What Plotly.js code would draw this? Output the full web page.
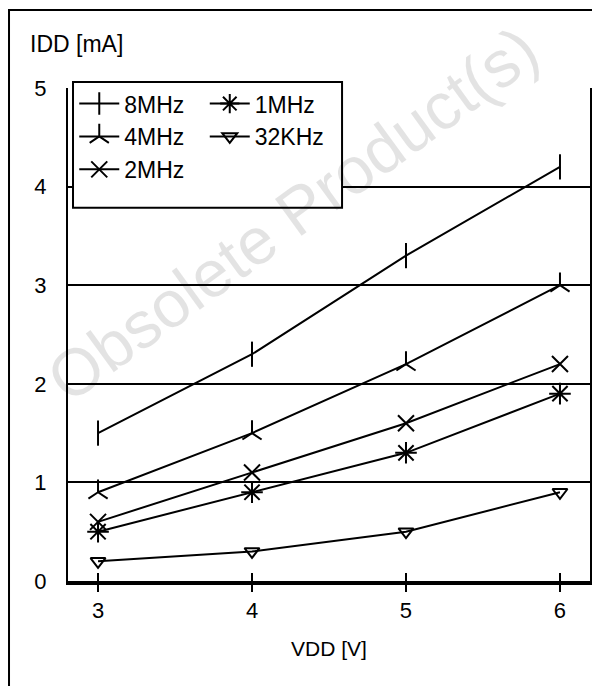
<!DOCTYPE html>
<html>
<head>
<meta charset="utf-8">
<script src="https://cdn.plot.ly/plotly-3.0.1.min.js"></script>
<style>html,body{margin:0;padding:0;background:#fff;}#chart{width:592px;height:686px;}</style>
</head>
<body>
<div id="chart"></div>
<script>
const vdd = [3, 4, 5, 6];
const idd8MHz = [1.5, 2.3, 3.3, 4.2];
const idd4MHz = [0.9, 1.5, 2.2, 3.0];
const idd2MHz = [0.6, 1.1, 1.6, 2.2];
const idd1MHz = [0.5, 0.9, 1.3, 1.9];
const idd32KHz = [0.2, 0.3, 0.5, 0.9];
const seriesNames = ['8MHz', '4MHz', '2MHz', '1MHz', '32KHz'];
const xTicks = [3, 4, 5, 6];
const yTicks = [0, 1, 2, 3, 4, 5];

const FONT = 'Liberation Sans, Arial, sans-serif';
const lineStyle = {color: '#000', width: 2};

function tr(name, y, symbol, size, legend) {
  return {
    x: vdd, y: y, name: name, type: 'scatter', mode: 'lines+markers',
    line: lineStyle,
    marker: {symbol: symbol, size: size, color: '#000', line: {color: '#000', width: 2}},
    legend: legend, legendgroup: name, cliponaxis: false
  };
}

const data = [
  tr(seriesNames[0], idd8MHz, 'line-ns-open', 18, 'legend'),
  tr(seriesNames[1], idd4MHz, 'y-up-open', 16, 'legend'),
  tr(seriesNames[2], idd2MHz, 'x-thin-open', 16, 'legend'),
  tr(seriesNames[3], idd1MHz, 'asterisk-open', 18, 'legend2'),
  tr(seriesNames[4], idd32KHz, 'triangle-down-open', 13, 'legend2')
];

const legendBase = {
  bgcolor: 'rgba(0,0,0,0)', borderwidth: 0,
  font: {family: FONT, size: 23, color: '#000'},
  xanchor: 'left', yanchor: 'top', tracegroupgap: 0, itemwidth: 40
};

const layout = {
  width: 592, height: 686,
  margin: {l: 68, r: 2, t: 88, b: 105},
  paper_bgcolor: '#fff', plot_bgcolor: '#fff',
  font: {family: FONT, size: 22, color: '#000'},
  title: {text: 'IDD [mA]', xref: 'container', yref: 'container', x: 30/592, y: 1 - 44/686,
          xanchor: 'left', yanchor: 'middle', font: {family: FONT, size: 23, color: '#000'}},
  xaxis: {
    range: [2.805, 6.195], tickvals: xTicks, ticktext: xTicks.map(String),
    showgrid: false, zeroline: false,
    showline: true, linecolor: '#000', linewidth: 4,
    ticks: 'outside', ticklen: 7, tickwidth: 2, tickcolor: '#000',
    tickfont: {family: FONT, size: 22, color: '#000'},
    title: {text: 'VDD [V]', font: {family: FONT, size: 21, color: '#000'}, standoff: 20},
    fixedrange: true
  },
  xaxis2: {
    matches: 'x', overlaying: 'x', range: [2.805, 6.195], tickvals: xTicks,
    showticklabels: false, showgrid: false, zeroline: false, showline: false,
    ticks: 'inside', ticklen: 8, tickwidth: 2, tickcolor: '#000', side: 'bottom'
  },
  yaxis: {
    range: [0, 5], tickvals: yTicks, ticktext: yTicks.map(String),
    showgrid: true, gridcolor: '#000', gridwidth: 2, zeroline: false,
    showline: true, linecolor: '#000', linewidth: 2, mirror: true,
    ticks: '', ticklabelstandoff: 15,
    tickfont: {family: FONT, size: 22, color: '#000'},
    fixedrange: true
  },
  showlegend: true,
  legend: Object.assign({}, legendBase, {x: 0.012, y: 1.012}),
  legend2: Object.assign({}, legendBase, {x: 0.262, y: 1.012}),
  shapes: [
    {type: 'rect', xref: 'paper', yref: 'paper', x0: 0.0096, x1: 0.525, y0: 0.757, y1: 1.012,
     line: {color: '#000', width: 2}, fillcolor: '#fff', layer: 'above'},
    {type: 'rect', xref: 'paper', yref: 'paper', x0: -0.113, x1: 1.2, y0: -0.3, y1: 1.158,
     line: {color: '#000', width: 2}, fillcolor: 'rgba(0,0,0,0)', layer: 'below'}
  ],
  annotations: [
    {text: 'Obsolete Product(s)', xref: 'paper', yref: 'paper', x: 0.43, y: 0.745,
     xanchor: 'center', yanchor: 'middle',
     showarrow: false, textangle: -36, font: {family: FONT, size: 66, color: 'rgba(0,0,0,0.11)'}}
  ]
};

// tick marks crossing the axis: invisible trace on the overlaying x axis
data.push({x: vdd, y: idd8MHz, xaxis: 'x2', yaxis: 'y', type: 'scatter', mode: 'none',
           showlegend: false, hoverinfo: 'skip'});

Plotly.newPlot('chart', data, layout, {staticPlot: true});
</script>
</body>
</html>
